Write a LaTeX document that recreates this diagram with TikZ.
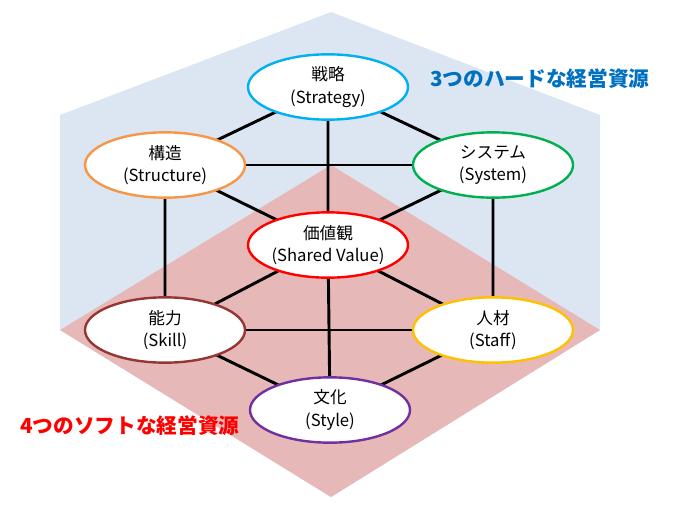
\documentclass[tikz,border=0pt]{standalone}
\usepackage{fontspec}
\setmainfont{Noto Sans CJK JP}
\usetikzlibrary{shapes.geometric}
\definecolor{bgblue}{RGB}{220,230,242}
\definecolor{bgpink}{RGB}{230,185,184}
\begin{document}
\begin{tikzpicture}[x=0.75pt,y=-0.75pt,
  el/.style={ellipse,draw,line width=1.8pt,fill=white,minimum width=120pt,minimum height=49pt,inner sep=0pt,align=center,font=\fontsize{12.5}{17}\selectfont},
  edge/.style={line width=2.2pt,black}]
\useasboundingbox (0,0) rectangle (681,507);
\fill[bgblue] (331,12)--(600,115)--(600,330)--(331,497)--(60,330)--(60,115)--cycle;
\fill[bgpink] (331,165)--(600,330)--(331,497)--(60,330)--cycle;
\coordinate (S) at (328,87);
\coordinate (St) at (165,165);
\coordinate (Sy) at (493,165);
\coordinate (V) at (328,245);
\coordinate (Sk) at (165,330);
\coordinate (Sf) at (493,330);
\coordinate (Sl) at (330,410);
\draw[edge] (S)--(St)--(Sk)--(Sl)--(Sf)--(Sy)--(S);
\draw[edge] (S)--(V)--(Sl);
\draw[edge] (St)--(Sy) (Sk)--(Sf);
\draw[edge] (V)--(St) (V)--(Sy) (V)--(Sk) (V)--(Sf);
\node[el,draw={rgb,255:red,0;green,176;blue,240}] (n1) at (S) {戦略\\(Strategy)};
\node[el,draw={rgb,255:red,247;green,150;blue,70}] (n2) at (St) {構造\\(Structure)};
\node[el,draw={rgb,255:red,0;green,176;blue,80}] (n3) at (Sy) {システム\\(System)};
\node[el,draw={rgb,255:red,255;green,0;blue,0}] (n4) at (V) {価値観\\(Shared Value)};
\node[el,draw={rgb,255:red,150;green,54;blue,52}] (n5) at (Sk) {能力\\(Skill)};
\node[el,draw={rgb,255:red,255;green,192;blue,0}] (n6) at (Sf) {人材\\(Staff)};
\node[el,draw={rgb,255:red,112;green,48;blue,160}] (n7) at (Sl) {文化\\(Style)};
\node[font=\bfseries\fontsize{15.5}{18}\selectfont,text={rgb,255:red,0;green,112;blue,192}] (h) at (540,79) {3つのハードな経営資源};
\node[font=\bfseries\fontsize{15.5}{18}\selectfont,text=red] (s) at (130,426) {4つのソフトな経営資源};
\end{tikzpicture}
\end{document}
